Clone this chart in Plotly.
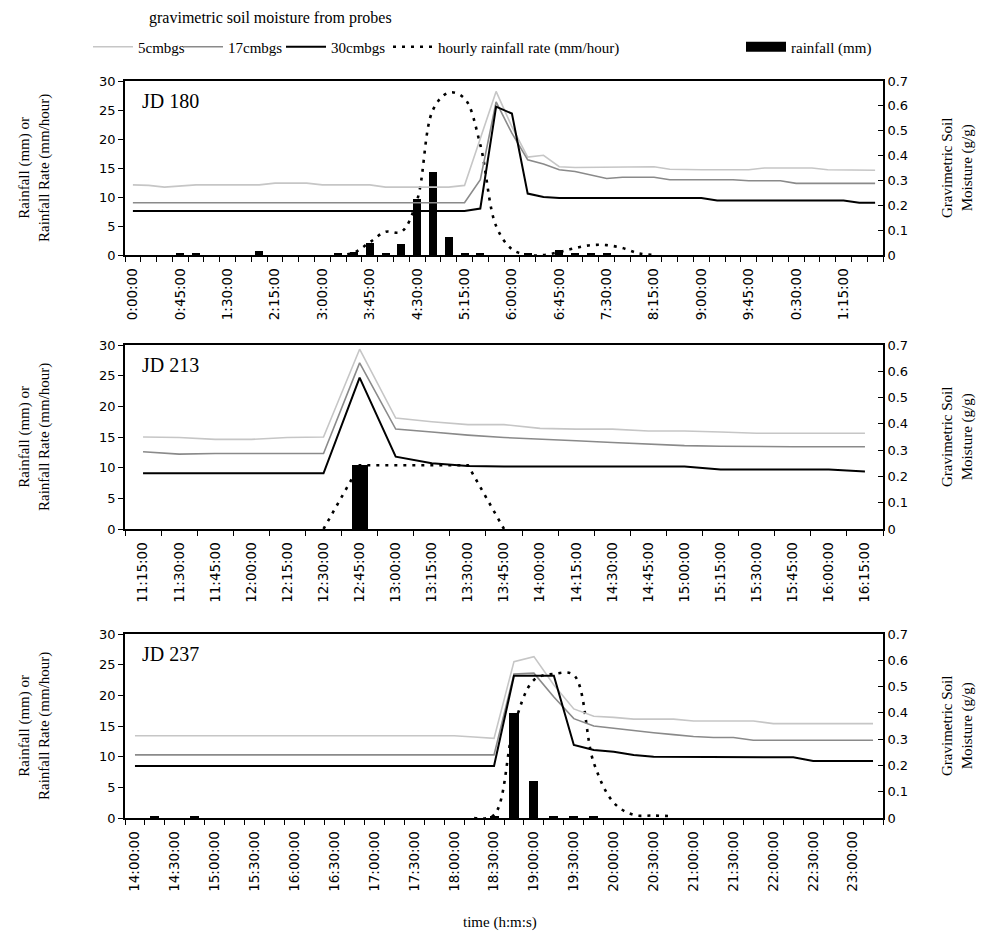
import plotly.graph_objects as go

# ---------------------------------------------------------------- data
STEP_MIN = 15  # minutes between records (one category per record)
NA = None      # no rainfall-rate value recorded

# ---- JD 180 (records 0:00 ... 11:45) ----
jd180_ticktext = ["0:00:00", "0:45:00", "1:30:00", "2:15:00", "3:00:00", "3:45:00",
                  "4:30:00", "5:15:00", "6:00:00", "6:45:00", "7:30:00", "8:15:00",
                  "9:00:00", "9:45:00", "0:30:00", "1:15:00"]
jd180_label_every = 3
jd180_rain = [0, 0, 0, 0.3, 0.3, 0, 0, 0,
              0.7, 0, 0, 0, 0, 0.2, 0.5, 2.1,
              0.3, 1.9, 9.7, 14.3, 3.1, 0.2, 0.2, 0,
              0, 0.2, 0, 0.8, 0.3, 0.3, 0.2, 0,
              0, 0, 0, 0, 0, 0, 0, 0,
              0, 0, 0, 0, 0, 0, 0, 0]
jd180_rate = [NA, NA, NA, NA, NA, NA, NA, NA,
              NA, NA, NA, NA, NA, 0, 0.4, 2.2,
              4.0, 4.0, 9.5, 25.0, 28.0, 27.0, 19.0, 5.0,
              1.0, 0, 0, 0.5, 1.2, 1.7, 1.7, 1.2,
              0.3, 0, NA, NA, NA, NA, NA, NA,
              NA, NA, NA, NA, NA, NA, NA, NA]
jd180_m5 = [0.282, 0.280, 0.273, 0.278, 0.282, 0.282, 0.282, 0.282,
            0.282, 0.289, 0.289, 0.289, 0.282, 0.282, 0.282, 0.282,
            0.273, 0.273, 0.273, 0.273, 0.273, 0.280, 0.467, 0.658,
            0.516, 0.394, 0.401, 0.355, 0.352, 0.352, 0.355, 0.355,
            0.355, 0.355, 0.345, 0.343, 0.343, 0.343, 0.343, 0.343,
            0.350, 0.350, 0.350, 0.350, 0.343, 0.343, 0.343, 0.341]
jd180_m17 = [0.210, 0.210, 0.210, 0.210, 0.210, 0.210, 0.210, 0.210,
             0.210, 0.210, 0.210, 0.210, 0.210, 0.210, 0.210, 0.210,
             0.210, 0.210, 0.210, 0.210, 0.210, 0.210, 0.303, 0.616,
             0.490, 0.383, 0.366, 0.343, 0.336, 0.322, 0.308, 0.313,
             0.313, 0.313, 0.303, 0.303, 0.303, 0.303, 0.303, 0.299,
             0.299, 0.299, 0.288, 0.288, 0.288, 0.288, 0.288, 0.288]
jd180_m30 = [0.177, 0.177, 0.177, 0.177, 0.177, 0.177, 0.177, 0.177,
             0.177, 0.177, 0.177, 0.177, 0.177, 0.177, 0.177, 0.177,
             0.177, 0.177, 0.177, 0.177, 0.177, 0.177, 0.187, 0.597,
             0.569, 0.247, 0.233, 0.229, 0.229, 0.229, 0.229, 0.229,
             0.229, 0.229, 0.229, 0.229, 0.229, 0.219, 0.219, 0.219,
             0.219, 0.219, 0.219, 0.219, 0.219, 0.219, 0.210, 0.210]

# ---- JD 213 (records 11:15 ... 16:15) ----
jd213_ticktext = ["11:15:00", "11:30:00", "11:45:00", "12:00:00", "12:15:00", "12:30:00",
                  "12:45:00", "13:00:00", "13:15:00", "13:30:00", "13:45:00", "14:00:00",
                  "14:15:00", "14:30:00", "14:45:00", "15:00:00", "15:15:00", "15:30:00",
                  "15:45:00", "16:00:00", "16:15:00"]
jd213_label_every = 1
jd213_rain = [0, 0, 0, 0, 0, 0, 10.4, 0, 0, 0, 0, 0, 0, 0, 0, 0, 0, 0, 0, 0, 0]
jd213_rate = [NA, NA, NA, NA, NA, 0, 10.4, 10.4, 10.4, 10.4, 0, NA, NA, NA, NA, NA,
              NA, NA, NA, NA, NA]
jd213_m5 = [0.350, 0.348, 0.341, 0.341, 0.348, 0.350, 0.684, 0.422, 0.408, 0.397, 0.397,
            0.383, 0.380, 0.380, 0.373, 0.373, 0.369, 0.364, 0.364, 0.364, 0.364]
jd213_m17 = [0.294, 0.285, 0.287, 0.287, 0.287, 0.287, 0.632, 0.380, 0.369, 0.357, 0.348,
             0.343, 0.336, 0.329, 0.324, 0.317, 0.315, 0.313, 0.313, 0.313, 0.313]
jd213_m30 = [0.212, 0.212, 0.212, 0.212, 0.212, 0.212, 0.576, 0.275, 0.250, 0.240, 0.238,
             0.238, 0.238, 0.238, 0.238, 0.238, 0.226, 0.226, 0.226, 0.226, 0.219]

# ---- JD 237 (records 14:00 ... 23:15) ----
jd237_ticktext = ["14:00:00", "14:30:00", "15:00:00", "15:30:00", "16:00:00", "16:30:00",
                  "17:00:00", "17:30:00", "18:00:00", "18:30:00", "19:00:00", "19:30:00",
                  "20:00:00", "20:30:00", "21:00:00", "21:30:00", "22:00:00", "22:30:00",
                  "23:00:00"]
jd237_label_every = 2
jd237_rain = [0, 0.3, 0, 0.3, 0, 0, 0, 0, 0, 0,
              0, 0, 0, 0, 0, 0, 0, 0, 0.3, 17.1,
              6.0, 0.3, 0.3, 0.3, 0, 0, 0, 0, 0, 0,
              0, 0, 0, 0, 0, 0, 0, 0]
jd237_rate = [NA, NA, NA, NA, NA, NA, NA, NA, NA, NA,
              NA, NA, NA, NA, NA, NA, NA, 0, 0.5, 15.0,
              22.5, 23.5, 23.3, 9.0, 2.5, 0.5, 0.4, 0.3, NA, NA,
              NA, NA, NA, NA, NA, NA, NA, NA]
jd237_m5 = [0.313, 0.313, 0.313, 0.313, 0.313, 0.313, 0.313, 0.313, 0.313, 0.313,
            0.313, 0.313, 0.313, 0.313, 0.313, 0.313, 0.313, 0.308, 0.303, 0.595,
            0.614, 0.506, 0.415, 0.387, 0.383, 0.376, 0.376, 0.376, 0.369, 0.369,
            0.369, 0.369, 0.359, 0.359, 0.359, 0.359, 0.359, 0.359]
jd237_m17 = [0.240, 0.240, 0.240, 0.240, 0.240, 0.240, 0.240, 0.240, 0.240, 0.240,
             0.240, 0.240, 0.240, 0.240, 0.240, 0.240, 0.240, 0.240, 0.240, 0.548,
             0.551, 0.460, 0.378, 0.350, 0.341, 0.331, 0.324, 0.317, 0.310, 0.306,
             0.306, 0.296, 0.296, 0.296, 0.296, 0.296, 0.296, 0.296]
jd237_m30 = [0.198, 0.198, 0.198, 0.198, 0.198, 0.198, 0.198, 0.198, 0.198, 0.198,
             0.198, 0.198, 0.198, 0.198, 0.198, 0.198, 0.198, 0.198, 0.198, 0.541,
             0.541, 0.541, 0.278, 0.259, 0.252, 0.240, 0.233, 0.233, 0.233, 0.233,
             0.233, 0.231, 0.231, 0.231, 0.217, 0.217, 0.217, 0.217]

panel_names = ["JD 180", "JD 213", "JD 237"]
left_ticks = [0, 5, 10, 15, 20, 25, 30]
right_ticks = [0, 0.1, 0.2, 0.3, 0.4, 0.5, 0.6, 0.7]
right_ticktext = ["0", "0.1", "0.2", "0.3", "0.4", "0.5", "0.6", "0.7"]

series_names = ["5cmbgs", "17cmbgs", "30cmbgs",
                "hourly rainfall rate (mm/hour)", "rainfall (mm)"]

# ---------------------------------------------------------------- layout
W, H = 991, 935
T = 60                     # top margin (legend lives above the paper area)
PH = H - T
PL, PR = 125, 883          # plot area left / right (px)
panel_px = [(81, 255), (345, 529), (634, 818)]   # top / bottom of each plot area (px)
legend_sample_px = [88, 178, 281, 388, 741]      # left edge of each legend entry (px)


def py(px):
    """pixel row -> paper y"""
    return 1 - (px - T) / PH


def pxx(px):
    """pixel column -> paper x"""
    return (px - PL) / (PR - PL)


SERIF = "Liberation Serif"
SANS = "DejaVu Sans"

C5, C17, C30 = "#c6c6c6", "#8a8a8a", "#000000"
RATE_LINE = dict(color="black", width=2.6, dash="3px,6px")

panels = [
    dict(tt=jd180_ticktext, every=jd180_label_every, rain=jd180_rain, rate=jd180_rate,
         m5=jd180_m5, m17=jd180_m17, m30=jd180_m30, shape="spline", barw=7.6),
    dict(tt=jd213_ticktext, every=jd213_label_every, rain=jd213_rain, rate=jd213_rate,
         m5=jd213_m5, m17=jd213_m17, m30=jd213_m30, shape="linear", barw=6.6),
    dict(tt=jd237_ticktext, every=jd237_label_every, rain=jd237_rain, rate=jd237_rate,
         m5=jd237_m5, m17=jd237_m17, m30=jd237_m30, shape="spline", barw=6.8),
]

fig = go.Figure()
layout = dict(
    width=W, height=H,
    margin=dict(l=PL, r=W - PR, t=T, b=0, autoexpand=False),
    paper_bgcolor="white", plot_bgcolor="white",
    showlegend=True,
    bargap=0,
    font=dict(family=SERIF, size=14, color="black"),
)

annotations = []
for k, p in enumerate(panels):
    n = len(p["m5"])
    x = [i * STEP_MIN for i in range(n)]
    xa = "x" if k == 0 else f"x{k + 1}"
    ya_l = "y" if k == 0 else f"y{2 * k + 1}"
    ya_r = f"y{2 * k + 2}"
    first = (k == 0)

    fig.add_trace(go.Bar(x=x, y=p["rain"], width=p["barw"], marker=dict(color="black", line=dict(width=0)),
                         name=series_names[4], showlegend=False,
                         xaxis=xa, yaxis=ya_l))
    fig.add_trace(go.Scatter(x=x, y=p["rate"], mode="lines", line_shape=p["shape"],
                             line=RATE_LINE, name=series_names[3], legend="legend4",
                             showlegend=first, xaxis=xa, yaxis=ya_l))
    for vals, col, wdt, nm, lg in [(p["m5"], C5, 1.6, series_names[0], "legend"),
                                   (p["m17"], C17, 1.6, series_names[1], "legend2"),
                                   (p["m30"], C30, 2.0, series_names[2], "legend3")]:
        fig.add_trace(go.Scatter(x=x, y=vals, mode="lines",
                                 line=dict(color=col, width=wdt),
                                 name=nm, legend=lg, showlegend=first,
                                 xaxis=xa, yaxis=ya_r))

    top, bot = panel_px[k]
    dom = [py(bot), py(top)]
    lo, hi = -STEP_MIN / 2, (n - 0.5) * STEP_MIN
    label_vals = [i * STEP_MIN for i in range(0, n, p["every"])][:len(p["tt"])]
    bounds = [lo + i * STEP_MIN for i in range(n + 1)]

    xkey = "xaxis" if k == 0 else f"xaxis{k + 1}"
    layout[xkey] = dict(
        domain=[0, 1], anchor=ya_l, range=[lo, hi],
        tickmode="array", tickvals=label_vals, ticktext=p["tt"],
        tickangle=-90, tickfont=dict(family=SANS, size=13.5, color="black"),
        ticks="outside", ticklen=6, tickcolor="rgba(0,0,0,0)",
        minor=dict(tickmode="array", tickvals=bounds, ticks="outside", ticklen=5,
                   tickcolor="black", tickwidth=1.3, showgrid=False),
        showline=True, linecolor="black", linewidth=1.6, mirror=True,
        showgrid=False, zeroline=False, fixedrange=True,
    )
    ylk = "yaxis" if k == 0 else f"yaxis{2 * k + 1}"
    layout[ylk] = dict(
        domain=dom, anchor=xa, range=[0, 30],
        tickmode="array", tickvals=left_ticks,
        ticks="outside", ticklen=5, tickcolor="black", tickwidth=1.3,
        tickfont=dict(family=SANS, size=13, color="black"),
        showline=True, linecolor="black", linewidth=1.6,
        showgrid=False, zeroline=False,
    )
    layout[f"yaxis{2 * k + 2}"] = dict(
        domain=dom, anchor=xa, overlaying=ya_l, side="right", range=[0, 0.7],
        tickmode="array", tickvals=right_ticks, ticktext=right_ticktext,
        ticks="inside", ticklen=5, tickcolor="black", tickwidth=1.3,
        tickfont=dict(family=SANS, size=13, color="black"),
        showline=True, linecolor="black", linewidth=1.6,
        showgrid=False, zeroline=False,
    )

    yc = py((top + bot) / 2)
    annotations.append(dict(text=panel_names[k], xref="paper", yref="paper",
                            x=pxx(140), y=py(top + 20),
                            xanchor="left", yanchor="middle", showarrow=False,
                            font=dict(family=SERIF, size=20, color="black")))
    annotations.append(dict(text="Rainfall (mm) or<br>Rainfall Rate (mm/hour)",
                            xref="paper", yref="paper", x=pxx(34), y=yc,
                            xanchor="center", yanchor="middle", textangle=-90, showarrow=False,
                            font=dict(family=SERIF, size=15, color="black")))
    annotations.append(dict(text="Gravimetric Soil<br>Moisture (g/g)",
                            xref="paper", yref="paper", x=pxx(957), y=yc,
                            xanchor="center", yanchor="middle", textangle=-90, showarrow=False,
                            font=dict(family=SERIF, size=15, color="black")))

# legend-only entry drawn as a wide black block, like the spreadsheet's column key
fig.add_trace(go.Scatter(x=[None], y=[None], mode="lines", line=dict(color="black", width=12),
                         name=series_names[4], legend="legend5", showlegend=True,
                         xaxis="x", yaxis="y"))

annotations.append(dict(text="gravimetric soil moisture from probes", xref="paper", yref="paper",
                        x=pxx(147), y=py(18), xanchor="left", yanchor="middle",
                        showarrow=False, font=dict(family=SERIF, size=16, color="black")))
annotations.append(dict(text="time (h:m:s)", xref="paper", yref="paper",
                        x=pxx(500), y=py(922), xanchor="center", yanchor="middle",
                        showarrow=False, font=dict(family=SERIF, size=15, color="black")))

layout["annotations"] = annotations
for j, lx in enumerate(legend_sample_px):
    key = "legend" if j == 0 else f"legend{j + 1}"
    layout[key] = dict(orientation="h", x=pxx(lx), y=py(47),
                       xanchor="left", yanchor="middle", bgcolor="rgba(0,0,0,0)",
                       font=dict(family=SERIF, size=15, color="black"),
                       itemwidth=40, tracegroupgap=0)

fig.update_layout(**layout)
fig.write_html("out.html")
